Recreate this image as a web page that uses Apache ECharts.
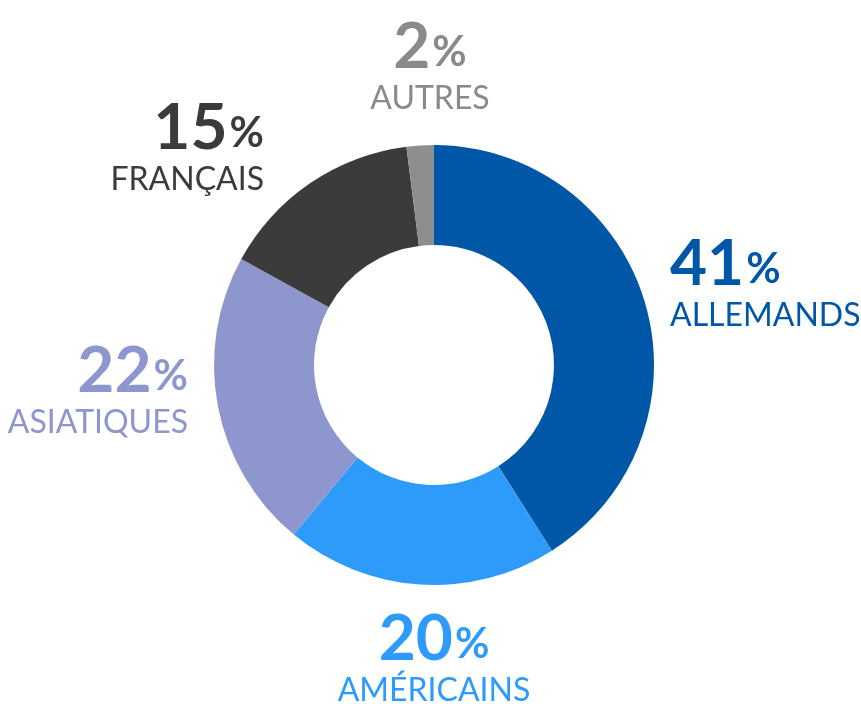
<!DOCTYPE html>
<html>
<head>
<meta charset="utf-8">
<script src="https://cdn.jsdelivr.net/npm/echarts@6/dist/echarts.min.js"></script>
<style>
  html, body { margin: 0; padding: 0; background: #fff; }
  #chart { width: 861px; height: 710px; }
</style>
</head>
<body>
<div id="chart"></div>
<script>
// données du graphique
const categories = ['ALLEMANDS', 'AMÉRICAINS', 'ASIATIQUES', 'FRANÇAIS', 'AUTRES']
const values = [41, 20, 22, 15, 2]
const colors = ['#0057a8', '#2e9bfa', '#8e96ce', '#3b3b3b', '#8e8e8e']

// ancrage des étiquettes (relatif au centre), alignement horizontal
const center = [434, 365]
const labelAnchors = [
  { dx: 236, dy: -84, align: 'left' },
  { dx: 0, dy: 291, align: 'center' },
  { dx: -246, dy: 23, align: 'right' },
  { dx: -170, dy: -220, align: 'right' },
  { dx: -4, dy: -301, align: 'center' }
]

const chart = echarts.init(document.getElementById('chart'))

const option = {
  animation: false,
  series: [
    {
      type: 'pie',
      center: center,
      radius: [120, 220],
      startAngle: 90,
      clockwise: true,
      avoidLabelOverlap: false,
      labelLine: { show: false },
      label: {
        show: true,
        position: 'outside',
        fontFamily: 'Lato',
        formatter: p => '{num|' + p.value + '}{pct|%}\n{name|' + p.name + '}',
        rich: {
          num: { fontSize: 64, fontFamily: 'Lato', fontWeight: 'bold', lineHeight: 70, verticalAlign: 'bottom' },
          pct: { fontSize: 42, fontFamily: 'Lato', fontWeight: 'bold', lineHeight: 70, verticalAlign: 'bottom', padding: [0, 0, 6, 2] },
          name: { fontSize: 32, fontFamily: 'Lato', lineHeight: 40 }
        }
      },
      labelLayout: params => {
        const a = labelAnchors[params.dataIndex]
        return {
          x: center[0] + a.dx,
          y: center[1] + a.dy,
          align: a.align,
          verticalAlign: 'middle'
        }
      },
      emphasis: { disabled: true },
      data: categories.map((name, i) => ({
        name: name,
        value: values[i],
        itemStyle: { color: colors[i] },
        label: { color: colors[i] === '#8e8e8e' ? '#8a8a8a' : colors[i] }
      }))
    }
  ]
}

chart.setOption(option)
</script>
</body>
</html>
